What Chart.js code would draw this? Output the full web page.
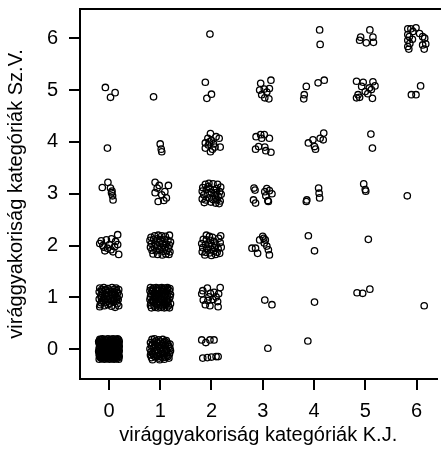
<!DOCTYPE html>
<html>
<head>
<meta charset="utf-8">
<script src="https://cdn.jsdelivr.net/npm/chart.js@4"></script>
<style>
  body { margin: 0; background: #fff; }
  canvas { display: block; }
</style>
</head>
<body>
<canvas id="chart" width="441" height="450"></canvas>
<script>
// tick categories on both axes
const kjTicks = [0, 1, 2, 3, 4, 5, 6];
const szTicks = [0, 1, 2, 3, 4, 5, 6];

const xTitle = "virággyakoriság kategóriák K.J.";
const yTitle = "virággyakoriság kategóriák Sz.V.";

// jittered points [K.J., Sz.V.], grouped by Sz.V. category
const szv6 = [
  [1.97, 6.08],
  [4.11, 6.16], [4.12, 5.88],
  [5.09, 6.16], [4.91, 6.02], [4.89, 5.96], [5.02, 5.91], [5.15, 6.02], [5.16, 5.92],
  [5.83, 6.18], [5.89, 6.18], [5.99, 6.20], [5.83, 6.07], [5.86, 6.03], [5.83, 5.96],
  [5.83, 5.84], [5.85, 5.79], [5.92, 5.98], [6.06, 6.09], [6.12, 6.03], [6.16, 6.00],
  [6.12, 5.87], [6.18, 5.89], [6.15, 5.79], [5.93, 6.13], [5.87, 5.90]
];

const szv5 = [
  [-0.07, 5.05], [0.12, 4.95], [0.03, 4.86],
  [0.87, 4.87],
  [1.88, 5.15], [2.00, 4.92], [1.91, 4.84],
  [2.96, 5.13], [3.16, 5.19], [3.03, 5.02], [3.13, 5.03], [2.98, 4.91], [3.04, 4.85],
  [3.12, 4.83], [2.94, 5.00], [3.08, 4.96],
  [3.85, 5.07], [3.81, 4.91], [3.80, 4.83], [4.08, 5.14], [4.20, 5.19],
  [4.83, 5.17], [4.96, 5.15], [5.15, 5.16], [4.93, 5.07], [5.08, 5.04], [5.19, 5.08],
  [5.00, 4.97], [5.12, 5.01], [4.86, 4.91], [4.83, 4.85], [4.89, 4.86], [5.14, 4.84],
  [5.05, 4.93],
  [5.90, 4.91], [5.99, 4.91], [6.08, 5.08]
];

const szv4 = [
  [-0.03, 3.88],
  [1.00, 3.96], [1.02, 3.86], [1.03, 3.81],
  [1.98, 4.16], [2.09, 4.10], [2.15, 4.07], [1.88, 3.98], [1.94, 3.94], [2.04, 3.96],
  [2.00, 4.03], [1.88, 3.88], [1.98, 3.81], [2.17, 3.90], [2.07, 3.90], [1.93, 4.07],
  [2.02, 3.86], [1.96, 4.00],
  [2.87, 4.10], [2.96, 4.14], [3.03, 4.14], [3.13, 4.07], [2.98, 4.07], [2.86, 3.86],
  [2.92, 3.91], [3.04, 3.90], [3.06, 3.83], [3.16, 3.80],
  [3.89, 3.98], [3.98, 4.04], [4.03, 3.86], [4.01, 3.91], [4.12, 4.07], [4.19, 4.17],
  [4.18, 4.04],
  [5.11, 4.15], [5.14, 3.88]
];

const szv3 = [
  [-0.13, 3.12], [-0.02, 3.22], [0.03, 3.11], [0.05, 3.02], [0.07, 2.96], [0.08, 2.88],
  [0.06, 3.05],
  [0.90, 3.22], [1.16, 3.16], [0.94, 3.11], [1.09, 3.04], [0.90, 3.02], [1.03, 2.98],
  [1.12, 2.92], [0.96, 2.85], [1.07, 2.87], [0.98, 3.16],
  [1.83, 3.12], [1.88, 3.18], [1.95, 3.20], [2.03, 3.19], [2.12, 3.18], [2.18, 3.13],
  [1.82, 3.05], [1.90, 3.08], [1.97, 3.10], [2.05, 3.07], [2.10, 3.10], [2.16, 3.04],
  [1.85, 2.98], [1.93, 3.00], [2.00, 3.02], [2.07, 2.97], [2.14, 2.95], [2.19, 2.99],
  [1.82, 2.90], [1.89, 2.88], [1.96, 2.92], [2.03, 2.89], [2.11, 2.88], [2.17, 2.86],
  [1.86, 2.83], [1.99, 2.84], [2.08, 2.82], [2.15, 2.81], [1.94, 3.14], [2.09, 3.02],
  [2.83, 3.11], [2.85, 3.07], [2.82, 2.88], [2.86, 2.82], [3.04, 3.04], [3.13, 3.06],
  [3.18, 3.00], [3.10, 2.87], [3.06, 2.96], [3.11, 2.85], [3.08, 3.10],
  [3.85, 2.85], [3.86, 2.88], [4.09, 3.11], [4.10, 3.01], [4.11, 2.92],
  [4.97, 3.19], [5.00, 3.08], [5.01, 3.05],
  [5.82, 2.96]
];

const szv2 = [
  [-0.15, 2.09], [-0.05, 2.11], [0.05, 2.13], [0.17, 2.21], [-0.12, 2.00], [-0.03, 1.95],
  [0.01, 2.02], [0.11, 1.98], [0.17, 2.02], [-0.08, 1.90], [0.08, 1.88], [0.19, 1.83],
  [-0.18, 2.04], [0.13, 2.08], [-0.10, 1.97], [0.04, 1.92],
  [0.82, 2.16], [0.89, 2.19], [0.96, 2.20], [1.03, 2.19], [1.10, 2.18], [1.18, 2.20],
  [0.80, 2.10], [0.87, 2.12], [0.94, 2.13], [1.01, 2.11], [1.08, 2.12], [1.15, 2.10],
  [1.20, 2.07], [0.83, 2.04], [0.90, 2.05], [0.98, 2.06], [1.05, 2.04], [1.12, 2.03],
  [1.18, 2.01], [0.81, 1.97], [0.88, 1.98], [0.95, 1.99], [1.02, 1.97], [1.09, 1.96],
  [1.16, 1.95], [0.84, 1.91], [0.92, 1.90], [0.99, 1.92], [1.06, 1.89], [1.13, 1.90],
  [1.19, 1.88], [0.86, 1.84], [0.95, 1.83], [1.04, 1.82], [1.11, 1.84], [1.17, 1.83],
  [1.90, 2.20], [1.96, 2.18], [2.02, 2.16], [2.14, 2.14], [1.84, 2.12], [1.90, 2.11],
  [1.98, 2.10], [2.05, 2.08], [2.17, 2.06], [1.81, 2.04], [1.88, 2.02], [1.95, 2.03],
  [2.01, 2.00], [2.09, 2.01], [1.83, 1.96], [1.91, 1.95], [1.99, 1.93], [2.06, 1.96],
  [2.13, 1.94], [2.19, 1.97], [1.82, 1.88], [1.89, 1.87], [1.97, 1.86], [2.04, 1.89],
  [2.11, 1.87], [1.87, 1.82], [2.00, 1.81], [2.08, 1.83], [2.16, 1.85], [2.18, 2.19],
  [3.02, 2.14], [3.05, 2.11], [2.94, 2.11], [2.79, 1.95], [2.86, 1.95], [2.90, 1.85],
  [3.08, 1.99], [3.11, 1.92], [3.13, 1.82], [3.03, 2.05], [3.00, 2.18],
  [3.89, 2.19], [4.01, 1.90],
  [5.06, 2.12]
];

const szv1 = [
  [-0.18, 1.18], [-0.10, 1.19], [-0.02, 1.17], [0.06, 1.19], [0.14, 1.18], [0.19, 1.15],
  [-0.19, 1.11], [-0.13, 1.12], [-0.05, 1.10], [0.02, 1.12], [0.10, 1.11], [0.17, 1.09],
  [-0.16, 1.04], [-0.08, 1.05], [0.00, 1.03], [0.07, 1.05], [0.14, 1.02], [0.20, 1.04],
  [-0.19, 0.97], [-0.11, 0.98], [-0.03, 0.96], [0.04, 0.98], [0.12, 0.97], [0.18, 0.96],
  [-0.15, 0.90], [-0.06, 0.91], [0.01, 0.89], [0.09, 0.91], [0.16, 0.88],
  [-0.18, 0.82], [-0.09, 0.84], [0.05, 0.83], [0.12, 0.81], [0.19, 0.84],
  [-0.13, 1.07], [0.04, 1.07], [-0.02, 0.93], [0.15, 1.13], [-0.07, 1.15], [0.09, 0.95],
  [-0.14, 1.155], [-0.06, 1.14], [0.10, 1.155], [-0.15, 1.0], [-0.045, 1.02],
  [0.11, 1.06], [0.16, 0.99], [-0.12, 0.94], [0.06, 0.94], [-0.02, 0.86],
  [0.15, 0.93], [-0.17, 0.86],
  [0.81, 1.19], [0.87, 1.18], [0.92, 1.19], [0.98, 1.18], [1.03, 1.19], [1.09, 1.18],
  [1.14, 1.19], [1.19, 1.17], [0.80, 1.13], [0.85, 1.12], [0.91, 1.14], [0.96, 1.13],
  [1.02, 1.12], [1.07, 1.14], [1.12, 1.12], [1.18, 1.13], [0.82, 1.07], [0.88, 1.08],
  [0.93, 1.06], [0.99, 1.08], [1.04, 1.07], [1.10, 1.06], [1.15, 1.08], [1.20, 1.06],
  [0.81, 1.01], [0.86, 1.02], [0.92, 1.01], [0.97, 1.03], [1.03, 1.02], [1.08, 1.01],
  [1.13, 1.03], [1.19, 1.01], [0.80, 0.96], [0.86, 0.95], [0.91, 0.97], [0.97, 0.96],
  [1.02, 0.95], [1.08, 0.97], [1.14, 0.95], [1.17, 0.97], [0.82, 0.90], [0.87, 0.91],
  [0.93, 0.89], [0.98, 0.91], [1.04, 0.90], [1.09, 0.89], [1.15, 0.91], [1.20, 0.88],
  [0.81, 0.85], [0.88, 0.84], [0.94, 0.86], [1.00, 0.85], [1.05, 0.84], [1.11, 0.86],
  [1.16, 0.84], [0.83, 0.80], [0.90, 0.81], [0.96, 0.80], [1.02, 0.81], [1.08, 0.80],
  [1.13, 0.81], [1.18, 0.80], [0.95, 1.05], [1.06, 0.93], [0.89, 0.99],
  [0.845, 1.155], [0.945, 1.155], [1.045, 1.155], [1.145, 1.155], [0.895, 1.045],
  [1.075, 1.04], [0.845, 0.925], [1.125, 0.93], [1.0, 0.99],
  [1.92, 1.18], [2.17, 1.19], [1.81, 1.07], [1.98, 1.08], [2.05, 1.10], [2.14, 1.07],
  [1.84, 0.95], [1.93, 0.94], [2.03, 0.96], [2.12, 0.92], [1.88, 0.86], [1.97, 0.84],
  [2.13, 0.82], [1.83, 1.13], [2.09, 1.01], [1.95, 1.01],
  [3.04, 0.95], [3.18, 0.86],
  [4.01, 0.91],
  [4.84, 1.09], [4.95, 1.08], [5.09, 1.16],
  [6.15, 0.84]
];

const szv0 = [
  [-0.19, -0.19], [-0.14, -0.18], [-0.09, -0.19], [-0.04, -0.18], [0.01, -0.19], [0.06, -0.18],
  [0.10, -0.19], [0.15, -0.18], [0.19, -0.19], [-0.18, -0.14], [-0.13, -0.15], [-0.08, -0.14],
  [-0.03, -0.13], [0.02, -0.14], [0.07, -0.15], [0.11, -0.14], [0.16, -0.13], [0.20, -0.14],
  [-0.19, -0.09], [-0.14, -0.10], [-0.10, -0.08], [-0.05, -0.09], [0.00, -0.10], [0.04, -0.09],
  [0.09, -0.08], [0.14, -0.10], [0.19, -0.09], [-0.20, -0.04], [-0.15, -0.05], [-0.11, -0.03],
  [-0.06, -0.04], [-0.01, -0.05], [0.05, -0.03], [0.10, -0.04], [0.15, -0.05], [0.20, -0.03],
  [-0.19, 0.01], [-0.14, 0.00], [-0.09, 0.02], [-0.04, 0.01], [0.01, 0.00], [0.06, 0.02],
  [0.11, 0.01], [0.15, 0.00], [0.19, 0.02], [-0.18, 0.06], [-0.13, 0.05], [-0.08, 0.07],
  [-0.03, 0.06], [0.02, 0.05], [0.07, 0.06], [0.12, 0.07], [0.16, 0.05], [0.20, 0.06],
  [-0.19, 0.11], [-0.15, 0.10], [-0.10, 0.11], [-0.05, 0.12], [0.00, 0.10], [0.05, 0.11],
  [0.09, 0.12], [0.14, 0.10], [0.19, 0.11], [-0.20, 0.15], [-0.14, 0.16], [-0.09, 0.15],
  [-0.04, 0.14], [0.02, 0.16], [0.06, 0.15], [0.11, 0.14], [0.16, 0.16], [0.20, 0.15],
  [-0.18, 0.19], [-0.13, 0.20], [-0.08, 0.19], [-0.02, 0.20], [0.03, 0.19], [0.08, 0.20],
  [0.13, 0.19], [0.17, 0.20], [0.19, 0.18], [-0.12, -0.12], [0.08, -0.11], [-0.02, 0.08],
  [0.12, 0.03], [-0.16, 0.13], [0.04, -0.06],
  [-0.165, -0.165], [-0.115, -0.165], [-0.065, -0.16], [-0.015, -0.165], [0.035, -0.16],
  [0.085, -0.165], [0.13, -0.16], [0.175, -0.165], [-0.17, -0.115], [-0.12, -0.07],
  [-0.07, -0.115], [-0.02, -0.075], [0.03, -0.115], [0.075, -0.07], [0.125, -0.115],
  [0.175, -0.07], [-0.17, -0.02], [-0.12, 0.03], [-0.07, -0.02], [-0.02, 0.03],
  [0.03, -0.02], [0.085, 0.035], [0.13, -0.02], [0.175, 0.035], [-0.165, 0.085],
  [-0.115, 0.13], [-0.065, 0.09], [-0.015, 0.13], [0.035, 0.085], [0.085, 0.13],
  [0.13, 0.085], [0.175, 0.13], [-0.16, 0.175], [-0.06, 0.175], [0.045, 0.175], [0.15, 0.175],
  [-0.185, -0.125], [-0.14, -0.13], [-0.095, -0.12], [-0.05, -0.125], [-0.005, -0.13],
  [0.04, -0.12], [0.085, -0.125], [0.13, -0.13], [0.175, -0.12], [-0.185, -0.03],
  [-0.14, -0.025], [-0.095, -0.035], [-0.05, -0.03], [-0.005, -0.025], [0.04, -0.035],
  [0.085, -0.03], [0.13, -0.025], [0.175, -0.035], [-0.185, 0.035], [-0.14, 0.04],
  [-0.095, 0.03], [-0.05, 0.035], [-0.005, 0.04], [0.04, 0.03], [0.085, 0.035],
  [0.13, 0.04], [0.175, 0.03], [-0.185, 0.125], [-0.14, 0.13], [-0.095, 0.12],
  [-0.05, 0.125], [-0.005, 0.13], [0.04, 0.12], [0.085, 0.125], [0.13, 0.13], [0.175, 0.12],
  [0.84, 0.19], [0.89, 0.20], [0.97, 0.18], [1.05, 0.19], [1.12, 0.17],
  [0.81, 0.13], [0.88, 0.14], [0.94, 0.12], [1.00, 0.14], [1.07, 0.13], [1.14, 0.12],
  [1.19, 0.10], [0.83, 0.07], [0.90, 0.08], [0.97, 0.06], [1.03, 0.08], [1.10, 0.07],
  [1.17, 0.05], [0.80, 0.01], [0.86, 0.02], [0.93, 0.00], [0.99, 0.02], [1.06, 0.01],
  [1.12, 0.00], [1.19, 0.02], [0.82, -0.05], [0.89, -0.04], [0.96, -0.06], [1.02, -0.04],
  [1.09, -0.05], [1.15, -0.06], [1.20, -0.03], [0.81, -0.11], [0.87, -0.10], [0.94, -0.12],
  [1.00, -0.10], [1.07, -0.11], [1.13, -0.12], [1.18, -0.09], [0.83, -0.16], [0.91, -0.15],
  [0.98, -0.17], [1.05, -0.16], [1.11, -0.15], [1.17, -0.17], [0.85, -0.20], [0.99, -0.20],
  [1.08, -0.19],
  [0.92, 0.16], [1.09, 0.155], [0.85, 0.10], [1.04, 0.11], [1.155, 0.085], [0.88, 0.04],
  [1.02, 0.035], [0.95, -0.02], [1.13, -0.025], [0.85, -0.075], [1.05, -0.08], [0.98, -0.135],
  [1.15, -0.14], [0.88, -0.13],
  [1.81, 0.18], [1.89, 0.13], [1.97, 0.18], [2.05, 0.18],
  [1.83, -0.17], [1.92, -0.16], [2.00, -0.15], [2.09, -0.14], [2.13, -0.14],
  [3.10, 0.02],
  [3.88, 0.16]
];

const points = [...szv0, ...szv1, ...szv2, ...szv3, ...szv4, ...szv5, ...szv6]
  .map(p => ({ x: p[0], y: p[1] }));

const fontFamily = "'Liberation Sans', Arial, Helvetica, sans-serif";

// top edge of the plot box (right edge is outside the picture)
const boxTop = {
  id: "boxTop",
  afterDraw(chart) {
    const { ctx, chartArea } = chart;
    ctx.save();
    ctx.strokeStyle = "#000";
    ctx.lineWidth = 2;
    ctx.beginPath();
    ctx.moveTo(chartArea.left - 1, chartArea.top);
    ctx.lineTo(chart.width, chartArea.top);
    ctx.stroke();
    ctx.restore();
  }
};

// fixed axis sizes, no extra room for the end labels
function fixX(s) {
  s.height = 71;
  s.paddingLeft = 0;
  s.paddingRight = 0;
}
function fixY(s) {
  s.width = 80;
  s.paddingTop = 0;
  s.paddingBottom = 0;
}

new Chart(document.getElementById("chart").getContext("2d"), {
  type: "scatter",
  data: {
    datasets: [{
      data: points,
      pointRadius: 3.2,
      pointHoverRadius: 3.2,
      pointBorderWidth: 1.3,
      pointBorderColor: "#000",
      pointBackgroundColor: "rgba(0,0,0,0)"
    }]
  },
  options: {
    responsive: false,
    animation: false,
    events: [],
    layout: { padding: { top: 9, right: 0, bottom: 0, left: 0 } },
    plugins: {
      legend: { display: false },
      tooltip: { enabled: false }
    },
    scales: {
      x: {
        type: "linear",
        min: -0.565,
        max: 6.39,
        afterBuildTicks: s => { s.ticks = kjTicks.map(v => ({ value: v })); },
        afterFit: fixX,
        grid: { drawOnChartArea: false, tickLength: 11, tickWidth: 2, tickColor: "#000", lineWidth: 2 },
        border: { display: true, color: "#000", width: 2 },
        ticks: { padding: 9, color: "#000", maxRotation: 0, font: { family: fontFamily, size: 20 } },
        title: {
          display: true, text: xTitle, color: "#000",
          font: { family: fontFamily, size: 20 }, padding: { top: 0, bottom: 3 }
        }
      },
      y: {
        type: "linear",
        min: -0.573,
        max: 6.563,
        afterBuildTicks: s => { s.ticks = szTicks.map(v => ({ value: v })); },
        afterFit: fixY,
        grid: { drawOnChartArea: false, tickLength: 11, tickWidth: 2, tickColor: "#000", lineWidth: 2 },
        border: { display: true, color: "#000", width: 2 },
        ticks: { padding: 11, color: "#000", font: { family: fontFamily, size: 20 } },
        title: {
          display: true, text: yTitle, color: "#000",
          font: { family: fontFamily, size: 20 }, padding: { top: 4, bottom: 0 }
        }
      }
    }
  },
  plugins: [boxTop]
});
</script>
</body>
</html>
